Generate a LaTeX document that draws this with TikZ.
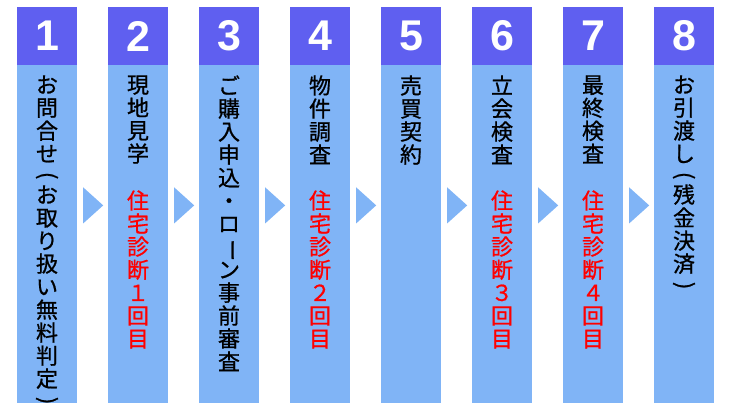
\documentclass[tikz,border=0pt]{standalone}
\usepackage{fontspec}
\usepackage{tikz}
\usetikzlibrary{positioning}
\newfontfamily\jpfont{Noto Sans CJK JP}[FakeBold=0.8]
\newfontfamily\numfont{Liberation Sans}
\definecolor{headblue}{RGB}{95,95,240}
\definecolor{bodyblue}{RGB}{128,180,246}
\newcommand{\vturn}[1]{\rotatebox[origin=c]{-90}{#1}}

\begin{document}
\begin{tikzpicture}[x=1pt,y=1pt,
    headbox/.style={fill=headblue, minimum width=60pt, minimum height=58pt, inner sep=0pt,
        text=white, font=\numfont\bfseries\fontsize{43}{43}\selectfont},
    bodybox/.style={fill=bodyblue, minimum width=60pt, minimum height=338pt, inner sep=0pt},
    steptext/.style={anchor=north, inner sep=0pt, align=center,
        font=\jpfont\fontsize{22}{23}\selectfont},
    redtext/.style={steptext, text=red}]
    \useasboundingbox (0,0) rectangle (730,410);

    % Columns: number on top, light body below
    \foreach \n in {1,...,8} {
        \node[headbox] (h\n) at (-44+91*\n, 374) {\n};
        \node[bodybox, below=0pt of h\n] (b\n) {};
    }

    % Triangles between the columns
    \foreach \n in {1,...,7} {
        \fill[bodyblue] ([shift={(6,11)}]b\n.east) -- ([shift={(6,47)}]b\n.east)
            -- ([shift={(26,29)}]b\n.east) -- cycle;
    }

    % Step texts (black)
    \node[steptext, below=10pt of h1] (s1) {お\\問\\合\\せ\\[-2.5pt]\vturn{(}\\[-2.5pt]お\\取\\り\\扱\\い\\無\\料\\判\\定\\[-2.5pt]\vturn{)}};
    \node[steptext, below=10pt of h2] (s2) {現\\地\\見\\学};
    \node[steptext, below=10pt of h3] (s3) {ご\\購\\入\\申\\込\\・\\ロ\\\vturn{ー}\\ン\\事\\前\\審\\査};
    \node[steptext, below=10pt of h4] (s4) {物\\件\\調\\査};
    \node[steptext, below=10pt of h5] (s5) {売\\買\\契\\約};
    \node[steptext, below=10pt of h6] (s6) {立\\会\\検\\査};
    \node[steptext, below=10pt of h7] (s7) {最\\終\\検\\査};
    \node[steptext, below=10pt of h8] (s8) {お\\引\\渡\\し\\[-2.5pt]\vturn{(}\\[-2.5pt]残\\金\\決\\済\\[-2.5pt]\vturn{)}};

    % Inspections (red)
    \node[redtext, below=125pt of h2] (r2) {住\\宅\\診\\断\\１\\回\\目};
    \node[redtext, below=125pt of h4] (r4) {住\\宅\\診\\断\\２\\回\\目};
    \node[redtext, below=125pt of h6] (r6) {住\\宅\\診\\断\\３\\回\\目};
    \node[redtext, below=125pt of h7] (r7) {住\\宅\\診\\断\\４\\回\\目};
\end{tikzpicture}
\end{document}
